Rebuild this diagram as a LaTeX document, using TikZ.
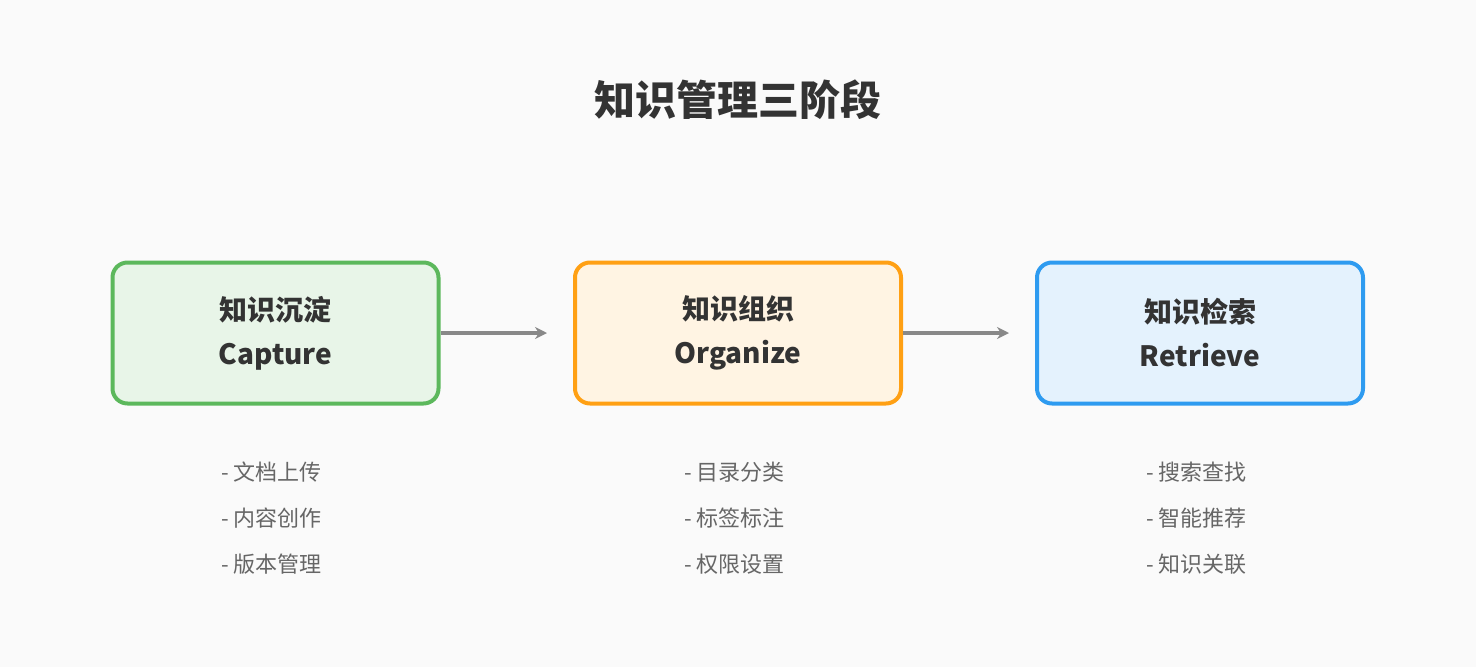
\documentclass[tikz,border=0pt]{standalone}
\usepackage{fontspec}
\setmainfont{Noto Sans CJK SC}
\usepackage{xcolor}
\usetikzlibrary{positioning,arrows.meta}
\definecolor{bgcol}{HTML}{FAFAFA}
\definecolor{textdark}{HTML}{333333}
\definecolor{textgray}{HTML}{666666}
\definecolor{arrowgray}{HTML}{888888}
\definecolor{captgreen}{HTML}{5CB85C}
\definecolor{orgorange}{HTML}{FFA014}
\definecolor{retblue}{HTML}{2E9BF0}
\begin{document}
\begin{tikzpicture}[x=1pt,y=-1pt,
    stage/.style={draw, line width=4pt, rounded corners=15pt, minimum width=326pt, minimum height=141pt, text=textdark, align=center, font=\fontsize{28}{44}\selectfont\bfseries},
    items/.style={anchor=north west, text=textgray, align=left, font=\fontsize{22}{46}\selectfont, inner sep=0pt},
    flow/.style={draw=arrowgray, line width=4pt, -{Stealth[length=12pt,width=12pt]}}
]

\fill[bgcol] (0,0) rectangle (1476,667);

\node[text=textdark, font=\fontsize{41}{48}\selectfont\bfseries] (title) at (738,100) {知识管理三阶段};

\node[stage, fill=captgreen!14, draw=captgreen] (s1) at (275.5,333) {知识沉淀\\Capture};
\node[stage, fill=orgorange!12, draw=orgorange] (s2) at (738,333) {知识组织\\Organize};
\node[stage, fill=retblue!13, draw=retblue] (s3) at (1200,333) {知识检索\\Retrieve};

\draw[flow] (s1.east) -- ([xshift=-26pt]s2.west);
\draw[flow] (s2.east) -- ([xshift=-26pt]s3.west);

\node[items] (l1) at (221,462) {- 文档上传\\- 内容创作\\- 版本管理};
\node[items] (l2) at (684,462) {- 目录分类\\- 标签标注\\- 权限设置};
\node[items] (l3) at (1146,462) {- 搜索查找\\- 智能推荐\\- 知识关联};

\end{tikzpicture}
\end{document}
